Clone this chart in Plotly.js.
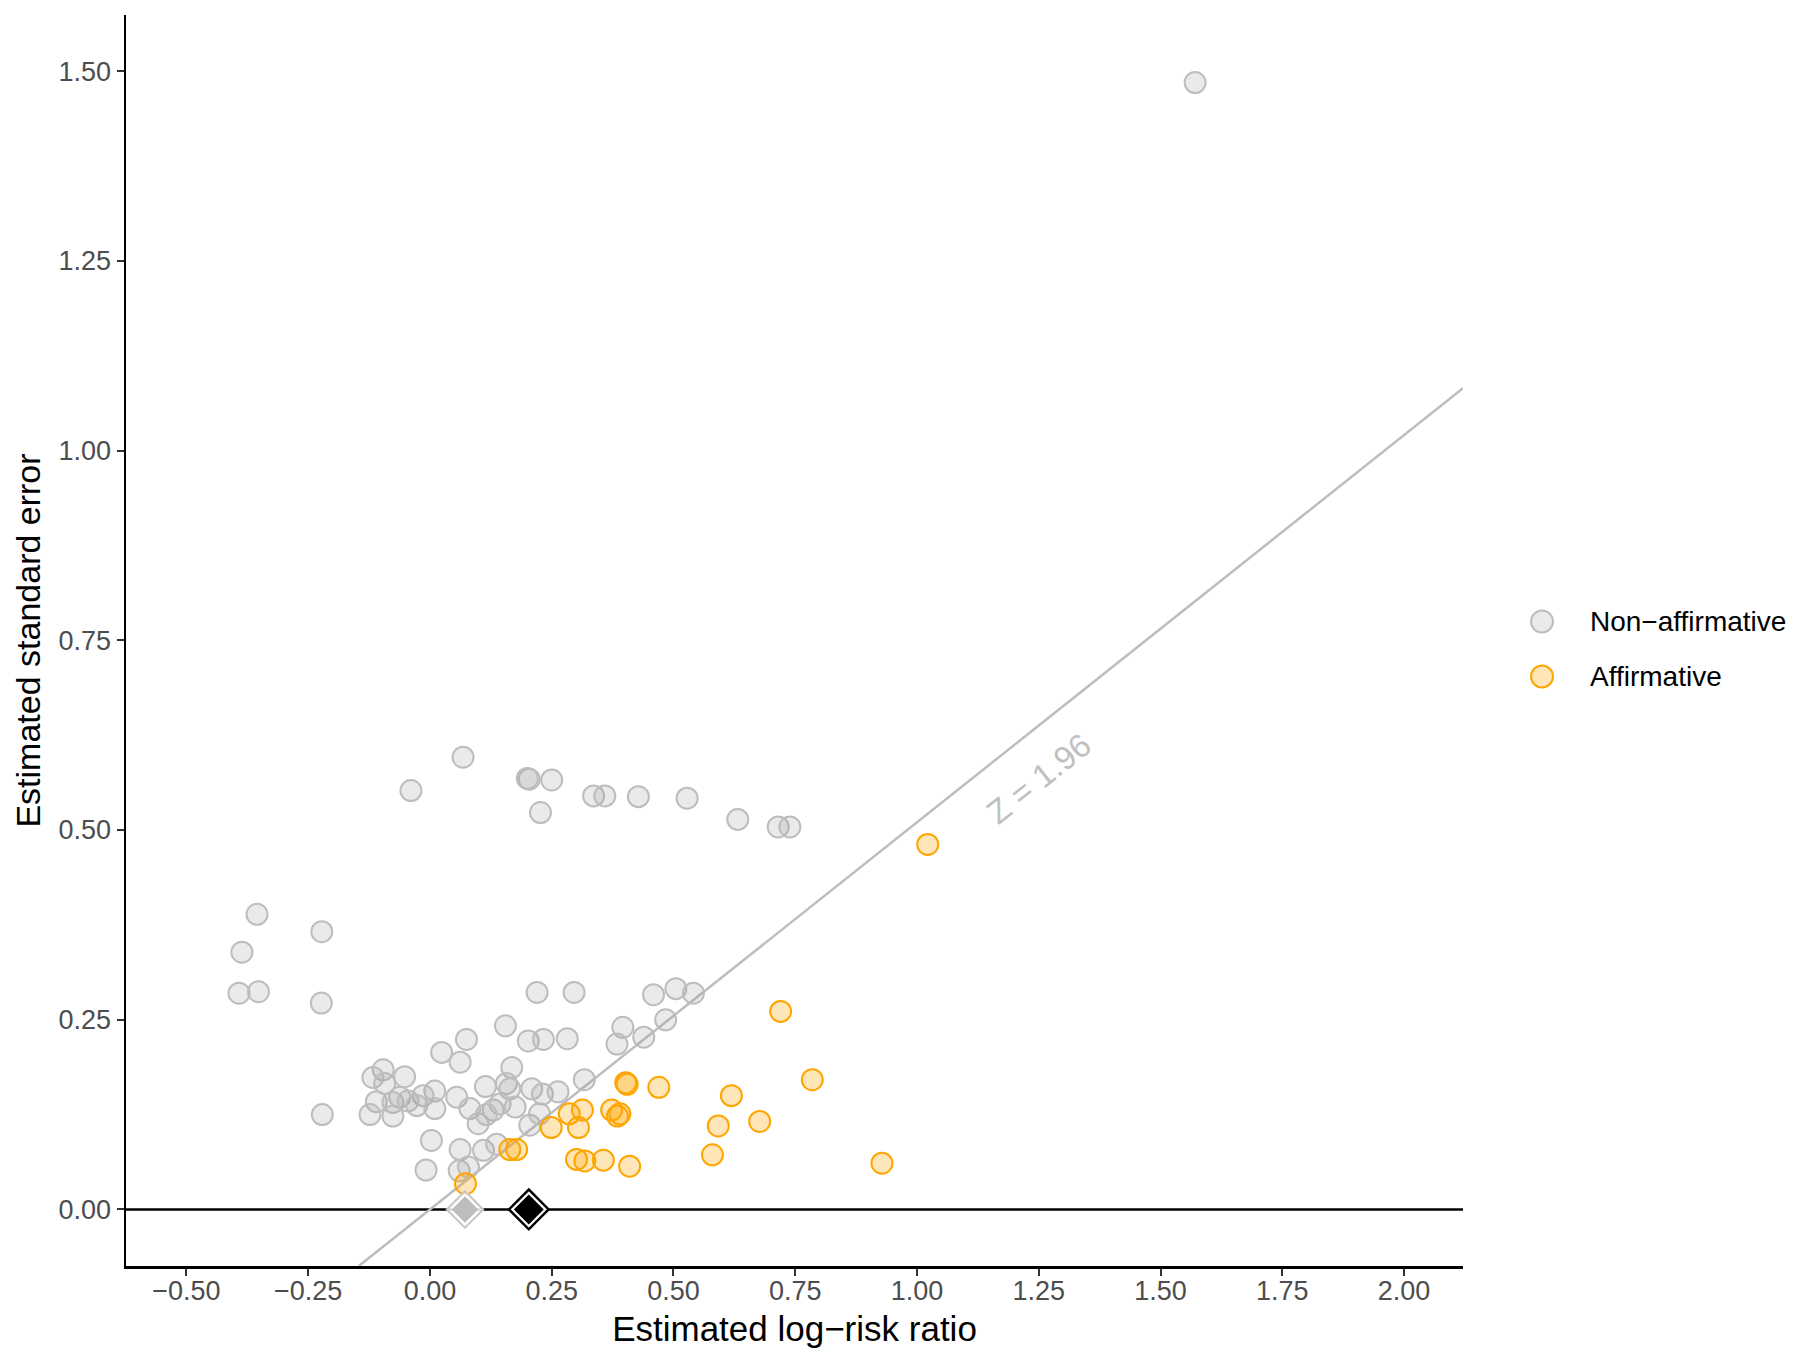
<!DOCTYPE html>
<html>
<head>
<meta charset="utf-8">
<script src="https://cdn.plot.ly/plotly-3.0.1.min.js"></script>
<style>html,body{margin:0;padding:0;background:#fff;}#chart{width:1800px;height:1364px;}</style>
</head>
<body>
<div id="chart"></div>
<script>
// ---------- data ----------
const seriesNames = ["Non\u2212affirmative", "Affirmative"];

const nonAffX = [0.220,0.296,0.459,0.505,0.541,0.155,0.396,0.484,0.075,0.202,0.233,0.282,0.384,0.439,
  0.024,0.062,0.168,-0.096,-0.117,-0.052,-0.093,0.010,0.114,0.157,0.164,0.209,0.231,0.263,0.317,
  -0.014,0.055,-0.062,-0.110,-0.076,-0.045,-0.027,0.010,-0.123,-0.076,0.082,0.130,0.144,0.175,
  0.099,0.116,0.205,0.225,0.003,0.062,0.110,0.137,-0.008,0.060,0.079,
  -0.039,0.068,0.204,0.200,0.250,0.227,0.336,0.359,0.428,0.528,0.632,0.715,0.739,
  -0.355,-0.222,-0.386,-0.392,-0.352,-0.223,-0.221,1.571];
const nonAffSE = [0.286,0.286,0.283,0.291,0.285,0.242,0.240,0.250,0.224,0.222,0.224,0.225,0.218,0.227,
  0.207,0.194,0.187,0.184,0.174,0.175,0.166,0.156,0.162,0.166,0.159,0.159,0.152,0.155,0.171,
  0.150,0.148,0.148,0.142,0.141,0.143,0.137,0.133,0.125,0.123,0.133,0.131,0.139,0.135,
  0.113,0.125,0.111,0.126,0.091,0.079,0.078,0.086,0.052,0.051,0.056,
  0.552,0.596,0.567,0.568,0.566,0.523,0.545,0.545,0.544,0.542,0.514,0.504,0.504,
  0.389,0.366,0.339,0.285,0.287,0.272,0.125,1.485];

const affX = [0.402,0.405,0.470,0.286,0.313,0.249,0.305,0.373,0.390,0.385,0.164,0.178,0.301,0.318,
  0.356,0.410,0.073,0.720,0.785,0.619,0.677,0.592,0.580,0.928,1.022];
const affSE = [0.167,0.165,0.161,0.126,0.131,0.108,0.108,0.131,0.126,0.123,0.079,0.079,0.066,0.064,
  0.065,0.057,0.034,0.261,0.171,0.150,0.116,0.110,0.072,0.061,0.481];

// pooled estimates (diamonds at SE = 0)
const pooledNames = ["Naive estimate", "Worst-case estimate"];
const pooledX = [0.072, 0.203];
const pooledSE = [0, 0];

const zCrit = 1.96;
const zLabel = "Z = 1.96";

const xRange = [-0.624, 2.121];
const yRange = [-0.0745, 1.574];
const xTickVals = [-0.50,-0.25,0.00,0.25,0.50,0.75,1.00,1.25,1.50,1.75,2.00];
const xTickText = ["\u22120.50","\u22120.25","0.00","0.25","0.50","0.75","1.00","1.25","1.50","1.75","2.00"];
const yTickVals = [0.00,0.25,0.50,0.75,1.00,1.25,1.50];
const yTickText = ["0.00","0.25","0.50","0.75","1.00","1.25","1.50"];

// ---------- styles ----------
const FONT = "Liberation Sans, Arial, Helvetica, sans-serif";
const fills = ["rgba(150,150,150,0.2)", "rgba(255,165,0,0.28)"];
const strokes = ["#bdbdbd", "#ffa500"];

const traces = [
  {
    type: "scatter", mode: "markers", name: seriesNames[0], showlegend: false,
    x: nonAffX, y: nonAffSE, cliponaxis: false,
    marker: {symbol: "circle", size: 21, color: fills[0], line: {color: strokes[0], width: 2}}
  },
  {
    type: "scatter", mode: "markers", name: seriesNames[1], showlegend: false,
    x: affX, y: affSE, cliponaxis: false,
    marker: {symbol: "circle", size: 21, color: fills[1], line: {color: strokes[1], width: 2}}
  },
  // grey diamond (outer white-filled outline + inner grey)
  {
    type: "scatter", mode: "markers", showlegend: false, name: pooledNames[0],
    x: [pooledX[0]], y: [pooledSE[0]],
    marker: {symbol: "diamond", size: 28, color: "rgba(255,255,255,0.85)", line: {color: "#c6c6c6", width: 2}}
  },
  {
    type: "scatter", mode: "markers", showlegend: false, name: pooledNames[0],
    x: [pooledX[0]], y: [pooledSE[0]],
    marker: {symbol: "diamond", size: 20.5, color: "#bdbdbd", line: {width: 0}}
  },
  // black diamond
  {
    type: "scatter", mode: "markers", showlegend: false, name: pooledNames[1],
    x: [pooledX[1]], y: [pooledSE[1]],
    marker: {symbol: "diamond", size: 30.5, color: "#ffffff", line: {color: "#000000", width: 2.5}}
  },
  {
    type: "scatter", mode: "markers", showlegend: false, name: pooledNames[1],
    x: [pooledX[1]], y: [pooledSE[1]],
    marker: {symbol: "diamond", size: 23, color: "#000000", line: {width: 0}}
  }
];

// Z = 1.96 reference line: SE = estimate / zCrit, spanning the x range
const zx0 = yRange[0] * zCrit, zx1 = xRange[1];

// legend (drawn with shapes + text so the keys match the plotted circle size)
const legendSymX = (1542 - 126) / 1337;
const legendTxtX = (1588 - 126) / 1337;
const legendY = [(1266 - 621.5) / 1251, (1266 - 676.5) / 1251];
const legendShapes = seriesNames.map((n, i) => ({
  type: "circle", xref: "paper", yref: "paper", xsizemode: "pixel", ysizemode: "pixel",
  xanchor: legendSymX, yanchor: legendY[i], x0: -11, x1: 11, y0: -11, y1: 11,
  fillcolor: fills[i], line: {color: strokes[i], width: 2}
}));
const legendTexts = seriesNames.map((n, i) => ({
  xref: "paper", yref: "paper", x: legendTxtX, y: legendY[i], xanchor: "left", yanchor: "middle",
  text: n, showarrow: false, font: {size: 28, color: "#000", family: FONT}
}));

const layout = {
  width: 1800, height: 1364,
  paper_bgcolor: "#ffffff", plot_bgcolor: "#ffffff",
  margin: {l: 126, r: 337, t: 15, b: 98},
  font: {family: FONT, color: "#000"},
  showlegend: false,
  xaxis: {
    range: xRange, showgrid: false, zeroline: false,
    showline: true, linecolor: "#000", linewidth: 2.5,
    ticks: "outside", ticklen: 7, tickwidth: 2, tickcolor: "#333",
    tickvals: xTickVals, ticktext: xTickText, ticklabelstandoff: -8,
    tickfont: {size: 27, color: "#4d4d4d", family: FONT},
    title: {text: "Estimated log\u2212risk ratio", font: {size: 35, color: "#000", family: FONT}, standoff: 12}
  },
  yaxis: {
    range: yRange, showgrid: false, zeroline: false,
    showline: true, linecolor: "#000", linewidth: 2.5,
    ticks: "outside", ticklen: 7, tickwidth: 2, tickcolor: "#333",
    tickvals: yTickVals, ticktext: yTickText,
    tickfont: {size: 27, color: "#4d4d4d", family: FONT},
    title: {text: "Estimated standard error", font: {size: 34, color: "#000", family: FONT}, standoff: 8}
  },
  shapes: [
    {type: "line", layer: "below", xref: "x", yref: "y", x0: zx0, y0: zx0 / zCrit, x1: zx1, y1: zx1 / zCrit,
     line: {color: "#bdbdbd", width: 2.5}},
    {type: "line", layer: "below", xref: "paper", yref: "y", x0: 0, x1: 1, y0: 0, y1: 0,
     line: {color: "#000", width: 2.5}}
  ].concat(legendShapes),
  annotations: [
    {xref: "x", yref: "y", x: 1.250, y: 0.5675, text: zLabel, showarrow: false,
     textangle: -38.5, font: {size: 33, color: "#c0c0c0", family: FONT}}
  ].concat(legendTexts)
};

Plotly.newPlot("chart", traces, layout, {displayModeBar: false, staticPlot: true});
</script>
</body>
</html>
